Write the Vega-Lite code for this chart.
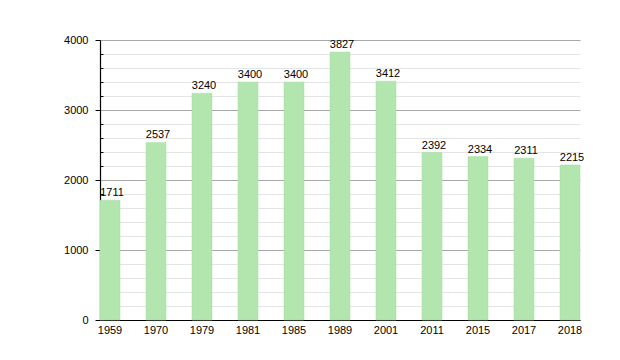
{
  "$schema": "https://vega.github.io/schema/vega-lite/v6.json",
  "width": 480,
  "height": 280,
  "autosize": "none",
  "padding": {"left": 100, "top": 40, "right": 40, "bottom": 40},
  "background": "white",
  "config": {"view": {"stroke": null}, "font": "Liberation Sans"},
  "data": {"values": [
    {"year": "1959", "pop": 1711},
    {"year": "1970", "pop": 2537},
    {"year": "1979", "pop": 3240},
    {"year": "1981", "pop": 3400},
    {"year": "1985", "pop": 3400},
    {"year": "1989", "pop": 3827},
    {"year": "2001", "pop": 3412},
    {"year": "2011", "pop": 2392},
    {"year": "2015", "pop": 2334},
    {"year": "2017", "pop": 2311},
    {"year": "2018", "pop": 2215}
  ]},
  "encoding": {
    "x": {"field": "year", "type": "nominal", "sort": null,
      "scale": {"paddingInner": 0.565, "paddingOuter": 0},
      "axis": {"title": null, "labelAngle": 0, "ticks": false, "labelPadding": 4, "labelFontSize": 11, "labelColor": "#000", "domainColor": "#000", "domainWidth": 1.2}},
    "y": {"field": "pop", "type": "quantitative",
      "scale": {"domain": [0, 4000], "nice": false},
      "axis": {"title": null,
        "values": [0,200,400,600,800,1000,1200,1400,1600,1800,2000,2200,2400,2600,2800,3000,3200,3400,3600,3800,4000],
        "labelExpr": "datum.value % 1000 === 0 ? datum.value : ''",
        "labelFontSize": 11, "labelColor": "#000", "labelPadding": 7,
        "domainColor": "#000", "domainWidth": 1.2,
        "tickColor": "#000",
        "tickSize": {"condition": {"test": "datum.value % 1000 === 0", "value": 5}, "value": -3},
        "gridColor": {"condition": {"test": "datum.value % 1000 === 0", "value": "#a8a8a8"}, "value": "#e4e4e4"},
        "grid": true}}
  },
  "layer": [
    {"mark": {"type": "bar", "fill": "#b3e5af", "stroke": "#a8dca4", "strokeWidth": 0.5}},
    {"mark": {"type": "text", "dy": -7, "dx": 2, "fontSize": 11, "color": "#000"},
     "encoding": {"text": {"field": "pop", "type": "quantitative"}}}
  ]
}
